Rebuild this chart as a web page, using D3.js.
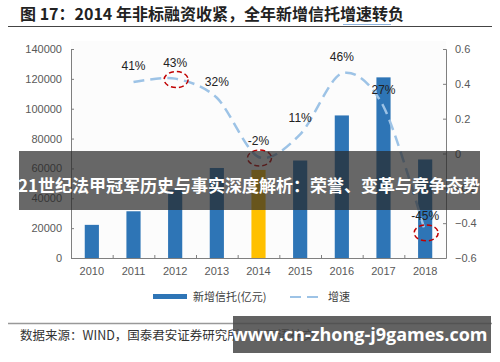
<!DOCTYPE html>
<html>
<head>
<meta charset="utf-8">
<title>2014 新增信托</title>
<script src="https://cdn.jsdelivr.net/npm/d3@7/dist/d3.min.js"></script>
<style>
  body { margin: 0; background: #fff; }
  svg { display: block; }
  .tick-label { font: 11px "Liberation Sans", Arial, sans-serif; fill: #595959; }
  .cjk { font-family: "Noto Sans CJK SC", sans-serif; }
</style>
</head>
<body>
<div id="chart"></div>
<script>
// data
const years = ["2010", "2011", "2012", "2013", "2014", "2015", "2016", "2017", "2018"];
const newTrust = [22200, 31300, 45700, 60300, 59000, 65300, 95500, 121000, 66000];
const growthYears = ["2011", "2012", "2013", "2014", "2015", "2016", "2017", "2018"];
const growth = [0.41, 0.43, 0.32, -0.02, 0.11, 0.46, 0.27, -0.45];
const growthLabels = ["41%", "43%", "32%", "-2%", "11%", "46%", "27%", "-45%"];
const circled = ["2012", "2014", "2018"];
const leftTicks = [0, 20000, 40000, 60000, 80000, 100000, 120000, 140000];
const rightTicks = [-0.6, -0.4, -0.2, 0, 0.2, 0.4, 0.6];
const highlightYear = "2014";

const width = 500, height = 362;
const plot = {left: 71, right: 446, top: 49, bottom: 258};

const svg = d3.select("#chart").append("svg")
    .attr("width", width)
    .attr("height", height);

// title
svg.append("text")
    .attr("class", "cjk")
    .attr("x", 20).attr("y", 20)
    .style("font-size", "16px").style("font-weight", "bold").style("fill", "#222")
    .text("图 17：2014 年非标融资收紧，全年新增信托增速转负");
svg.append("line")
    .attr("x1", 343).attr("x2", 391).attr("y1", 24.5).attr("y2", 24.5)
    .attr("stroke", "#8fb4de").attr("stroke-width", 1);
svg.append("line")
    .attr("x1", 8).attr("x2", 492).attr("y1", 26.5).attr("y2", 26.5)
    .attr("stroke", "#444").attr("stroke-width", 1);

// scales
const x = d3.scaleBand().domain(years).range([plot.left, plot.right]).padding(0);
const yL = d3.scaleLinear().domain([0, 140000]).range([plot.bottom, plot.top]);
const yR = d3.scaleLinear().domain([-0.6, 0.6]).range([plot.bottom, plot.top]);
const cx = d => x(d) + x.bandwidth() / 2;

// plot background
svg.append("rect")
    .attr("x", plot.left).attr("y", plot.top - 8)
    .attr("width", plot.right - plot.left).attr("height", plot.bottom - plot.top + 8)
    .attr("fill", "#fcfcfc");

// bars
const barW = x.bandwidth() * 0.34;
svg.append("g").selectAll("rect")
    .data(years)
    .join("rect")
    .attr("x", d => cx(d) - barW / 2)
    .attr("y", (d, i) => yL(newTrust[i]))
    .attr("width", barW)
    .attr("height", (d, i) => yL(0) - yL(newTrust[i]))
    .attr("fill", d => d === highlightYear ? "#ffc000" : "#2e75b6");

// axes
const axisColor = "#7f7f7f";
const gL = svg.append("g").attr("transform", `translate(${plot.left},0)`)
    .call(d3.axisRight(yL).tickValues(leftTicks).tickSize(3).tickFormat(""));
const gR = svg.append("g").attr("transform", `translate(${plot.right},0)`)
    .call(d3.axisLeft(yR).tickValues(rightTicks).tickSize(3).tickFormat(""));
[gL, gR].forEach(g => {
  g.select(".domain").attr("stroke", axisColor);
  g.selectAll(".tick line").attr("stroke", axisColor);
});

svg.append("g").selectAll("text")
    .data(leftTicks)
    .join("text")
    .attr("class", "tick-label")
    .attr("x", 62).attr("y", d => yL(d) + 4)
    .attr("text-anchor", "end")
    .text(d => d);

svg.append("g").selectAll("text")
    .data(rightTicks)
    .join("text")
    .attr("class", "tick-label")
    .attr("x", 455).attr("y", d => yR(d) + 4)
    .text(d => d === 0 ? "0" : d3.format(".1f")(d));

// x axis
svg.append("line")
    .attr("x1", plot.left).attr("x2", plot.right)
    .attr("y1", plot.bottom + 0.5).attr("y2", plot.bottom + 0.5)
    .attr("stroke", axisColor);
svg.append("g").selectAll("line")
    .data(years.slice(1))
    .join("line")
    .attr("x1", d => x(d) + 0.5).attr("x2", d => x(d) + 0.5)
    .attr("y1", plot.bottom).attr("y2", plot.bottom - 3)
    .attr("stroke", axisColor);
svg.append("g").selectAll("text")
    .data(years)
    .join("text")
    .attr("class", "tick-label")
    .attr("x", cx).attr("y", 275)
    .attr("text-anchor", "middle")
    .text(d => d);

// growth line
const line = d3.line()
    .x((d, i) => cx(growthYears[i]))
    .y(d => yR(d))
    .curve(d3.curveCardinal.tension(0.1));
svg.append("path")
    .datum(growth)
    .attr("d", line)
    .attr("fill", "none")
    .attr("stroke", "#9dc3e6")
    .attr("stroke-width", 2.5)
    .attr("stroke-dasharray", "11,6");

// growth labels
svg.append("g").selectAll("text")
    .data(growth)
    .join("text")
    .attr("x", (d, i) => cx(growthYears[i]))
    .attr("y", (d, i) => yR(d) - 12)
    .attr("text-anchor", "middle")
    .style("font", "12px 'Liberation Sans', Arial, sans-serif")
    .style("fill", "#222")
    .text((d, i) => growthLabels[i]);

// red dashed circles
svg.append("g").selectAll("ellipse")
    .data(circled)
    .join("ellipse")
    .attr("cx", d => cx(d) + 1)
    .attr("cy", d => yR(growth[growthYears.indexOf(d)]) + 1)
    .attr("rx", 12).attr("ry", 8)
    .attr("fill", "none")
    .attr("stroke", "#c00000")
    .attr("stroke-width", 1.5)
    .attr("stroke-dasharray", "5,3");

// legend
const lg = svg.append("g").attr("transform", "translate(0,297)");
lg.append("rect").attr("x", 153).attr("y", -3).attr("width", 34).attr("height", 5).attr("fill", "#2e75b6");
lg.append("text").attr("class", "cjk").attr("x", 193).attr("y", 4)
    .style("font-size", "11px").style("fill", "#404040").text("新增信托(亿元)");
lg.append("line").attr("x1", 290).attr("x2", 320).attr("y1", 0).attr("y2", 0)
    .attr("stroke", "#9dc3e6").attr("stroke-width", 2).attr("stroke-dasharray", "11,6");
lg.append("text").attr("class", "cjk").attr("x", 328).attr("y", 4)
    .style("font-size", "11px").style("fill", "#404040").text("增速");

// footer
svg.append("line")
    .attr("x1", 8).attr("x2", 492).attr("y1", 323.5).attr("y2", 323.5)
    .attr("stroke", "#999").attr("stroke-width", 1.5);
svg.append("text")
    .attr("class", "cjk")
    .attr("x", 20).attr("y", 340)
    .style("font-size", "12.5px").style("fill", "#333")
    .text("数据来源：WIND，国泰君安证券研究所，小图语神交");

// overlays
svg.append("rect")
    .attr("x", 19).attr("y", 151).attr("width", 461).attr("height", 59)
    .attr("fill", "rgba(40,40,40,0.7)");
svg.append("text")
    .attr("class", "cjk")
    .attr("x", 249).attr("y", 192)
    .attr("text-anchor", "middle")
    .style("font-size", "17px").style("font-weight", "bold").style("fill", "#fff")
    .text("21世纪法甲冠军历史与事实深度解析：荣誉、变革与竞争态势");

svg.append("rect")
    .attr("x", 233).attr("y", 316).attr("width", 258).attr("height", 37)
    .attr("fill", "rgba(70,70,70,0.85)");
svg.append("text")
    .attr("x", 360).attr("y", 341)
    .attr("text-anchor", "middle")
    .style("font", "bold 18px 'Open Sans', sans-serif").style("fill", "#fff")
    .text("www.cn-zhong-j9games.com");
</script>
</body>
</html>
